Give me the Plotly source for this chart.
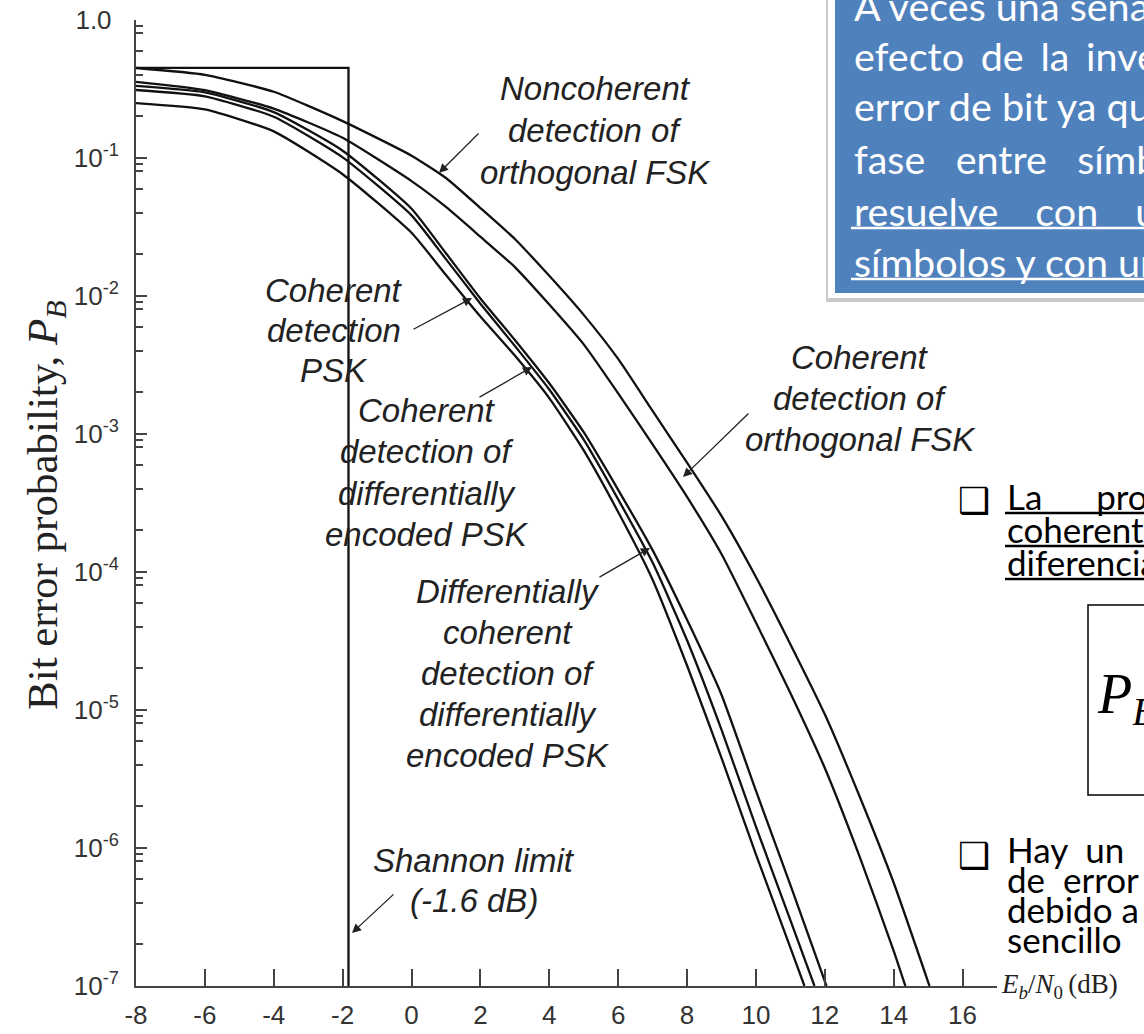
import plotly.graph_objects as go

# ---------------- data ----------------
nc_fsk_x = [-8, -6, -4, -2, 0, 1, 2, 3, 4, 5, 6, 7, 8, 9, 10, 11, 12, 13, 14, 15.04]
nc_fsk_y = [0.449, 0.401, 0.302, 0.185, 0.104, 0.0716, 0.0434, 0.0259, 0.0140, 0.0073,
            0.0035, 0.00147, 6.2e-4, 2.55e-4, 9.2e-5, 3.0e-5, 9.3e-6, 2.4e-6, 5.6e-7, 1.0e-7]

c_fsk_x = [-8, -6, -4, -2, 0, 1, 2, 3, 4, 5, 6, 7, 8, 9, 10, 11, 12, 13, 14, 14.34]
c_fsk_y = [0.356, 0.31, 0.228, 0.140, 0.068, 0.0442, 0.0269, 0.0162, 0.00867, 0.00446,
           0.00197, 8.4e-4, 3.5e-4, 1.35e-4, 4.3e-5, 1.33e-5, 3.8e-6, 8.8e-7, 1.8e-7, 1.0e-7]

dpsk_x = [-8, -6, -4, -2, 0, 1, 2, 3, 4, 5, 6, 7, 8, 9, 10, 11, 12.05]
dpsk_y = [0.333, 0.299, 0.215, 0.113, 0.0429, 0.0204, 0.0096, 0.0048, 0.00233, 1.03e-3,
          3.94e-4, 1.44e-4, 4.5e-5, 1.29e-5, 2.6e-6, 5.4e-7, 1.0e-7]

de_psk_x = [-8, -6, -4, -2, 0, 1, 2, 3, 4, 5, 6, 7, 8, 9, 10, 11, 11.70]
de_psk_y = [0.311, 0.280, 0.199, 0.101, 0.0384, 0.0185, 0.0088, 0.00435, 0.0021, 9.1e-4,
            3.36e-4, 1.17e-4, 3.2e-5, 7.2e-6, 1.43e-6, 3.0e-7, 1.0e-7]

psk_x = [-8, -6, -4, -2, 0, 1, 2, 3, 4, 5, 6, 7, 8, 9, 10, 11, 11.41]
psk_y = [0.250, 0.225, 0.156, 0.0763, 0.0287, 0.0142, 0.0071, 0.0037, 0.00182, 7.6e-4,
         2.72e-4, 8.8e-5, 2.1e-5, 4.5e-6, 9.0e-7, 1.9e-7, 1.0e-7]

shannon_x = [-8, -1.83, -1.83]
shannon_y = [0.45, 0.45, 1e-7]

x_ticks = [-8, -6, -4, -2, 0, 2, 4, 6, 8, 10, 12, 14, 16]
x_ticktext = ["-8", "-6", "-4", "-2", "0", "2", "4", "6", "8", "10", "12", "14", "16"]
y_ticks = [1e-7, 1e-6, 1e-5, 1e-4, 1e-3, 1e-2, 1e-1, 1.0]
y_ticktext = ["10<sup>-7</sup>", "10<sup>-6</sup>", "10<sup>-5</sup>", "10<sup>-4</sup>",
              "10<sup>-3</sup>", "10<sup>-2</sup>", "10<sup>-1</sup>", "1.0\u00a0"]

# ---------------- geometry helpers (layout only) ----------------
W, H = 1144, 1034
L, R, T, B = 136, 147, 20, 48
PW, PH = W - L - R, H - T - B
X0, X1 = -8, 17
Y0, Y1 = -7, 0


def px_x(px):
    return X0 + (px - L) / PW * (X1 - X0)


def px_ylog(py):
    return Y1 - (py - T) / PH * (Y1 - Y0)


def pap_x(px):
    return (px - L) / PW


def pap_y(py):
    return (H - B - py) / PH


fig = go.Figure()
line_style = dict(color="#111111", width=2.3, shape="spline", smoothing=0.5)
for xs, ys in [(nc_fsk_x, nc_fsk_y), (c_fsk_x, c_fsk_y), (dpsk_x, dpsk_y),
               (de_psk_x, de_psk_y), (psk_x, psk_y)]:
    fig.add_trace(go.Scatter(x=xs, y=ys, mode="lines", line=line_style,
                             showlegend=False, hoverinfo="skip"))
fig.add_trace(go.Scatter(x=shannon_x, y=shannon_y, mode="lines",
                         line=dict(color="#111111", width=2.3),
                         showlegend=False, hoverinfo="skip"))

minor_vals = []
for d in range(-7, 0):
    for m in [0.2, 0.4, 0.6, 0.8, 0.9]:
        minor_vals.append(m * 10 ** (d + 1))

ann = []
SANS = "Liberation Sans, Arial, sans-serif"
SERIF = "Liberation Serif, Times New Roman, serif"


def text_block(lines, cx, y0, dy, size=33):
    for i, t in enumerate(lines):
        ann.append(dict(text="<i>%s</i>" % t, x=px_x(cx), y=px_ylog(y0 + i * dy),
                        xref="x", yref="y", showarrow=False, xanchor="center",
                        yanchor="middle", font=dict(family=SANS, size=size, color="#222222")))


text_block(["Noncoherent", "detection of", "orthogonal FSK"], 595, 88, 42)
text_block(["Coherent", "detection", "PSK"], 334, 290, 40)
text_block(["Coherent", "detection of", "differentially", "encoded PSK"], 427, 410, 41.5)
text_block(["Differentially", "coherent", "detection of", "differentially", "encoded PSK"],
           508, 591, 41)
text_block(["Coherent", "detection of", "orthogonal FSK"], 860, 357, 41)
text_block(["Shannon limit", "(-1.6 dB)"], 474, 860, 40)


def arrow(tip, tail):
    ann.append(dict(text="", x=px_x(tip[0]), y=px_ylog(tip[1]), xref="x", yref="y",
                    ax=tail[0] - tip[0], ay=tail[1] - tip[1], showarrow=True,
                    arrowhead=2, arrowsize=1.4, arrowwidth=1.3, arrowcolor="#222222"))


arrow((439, 173), (480, 132))
arrow((472, 298), (412, 330))
arrow((532, 367), (478, 398))
arrow((650, 548), (598, 578))
arrow((683, 477), (750, 412))
arrow((352, 933), (395, 893))

# axis titles
ann.append(dict(text="Bit error probability, <i>P</i><sub><i>B</i></sub>",
                x=pap_x(46), y=pap_y(505), xref="paper", yref="paper", textangle=-90,
                showarrow=False, xanchor="center", yanchor="middle",
                font=dict(family=SERIF, size=43, color="#222222")))
ann.append(dict(text="<i>E</i><sub><i>b</i></sub>/<i>N</i><sub>0</sub>\u2009(dB)",
                x=pap_x(999), y=pap_y(986), xref="paper", yref="paper",
                showarrow=False, xanchor="left", yanchor="middle",
                font=dict(family=SERIF, size=27, color="#222222")))

# ---------------- slide overlay: blue text box ----------------
shapes = []
shapes.append(dict(type="rect", xref="paper", yref="paper", x0=pap_x(826), x1=pap_x(1160),
                   y0=pap_y(302), y1=pap_y(-10), fillcolor="#c9c9c9", line=dict(width=0),
                   layer="above"))
shapes.append(dict(type="rect", xref="paper", yref="paper", x0=pap_x(828), x1=pap_x(1160),
                   y0=pap_y(298), y1=pap_y(-10), fillcolor="#ffffff", line=dict(width=0),
                   layer="above"))
shapes.append(dict(type="rect", xref="paper", yref="paper", x0=pap_x(835), x1=pap_x(1160),
                   y0=pap_y(293), y1=pap_y(-10), fillcolor="#4f81bd", line=dict(width=0),
                   layer="above"))

BOX = "Lato, Carlito, Calibri, sans-serif"
NB = "\u00a0"
SIX = "\u2006"
box_lines = [
    ("A veces una señal PSK", 852, 5),
    ("efecto " + SIX + "de " + SIX + "la " + SIX + "inversión", 852, 56),
    ("error de bit ya que se", 852, 106),
    ("fase" + NB * 2 + " entre" + NB * 2 + " símbolos", 852, 158),
    ("resuelve" + NB * 2 + " " + SIX + "con" + NB * 2 + " " + SIX + "una", 852, 210),
    ("símbolos y con un", 852, 261),
]
for t, lx, cy in box_lines:
    ann.append(dict(text=t, x=pap_x(lx), y=pap_y(cy), xref="paper", yref="paper",
                    showarrow=False, xanchor="left", yanchor="middle",
                    font=dict(family=BOX, size=39.5, color="#ffffff")))
for uy in (228, 279):
    shapes.append(dict(type="line", xref="paper", yref="paper", x0=pap_x(851), x1=pap_x(1160),
                       y0=pap_y(uy), y1=pap_y(uy), line=dict(color="#ffffff", width=2.5),
                       layer="above"))

# ---------------- slide overlay: right-hand bullets ----------------
for by in (500, 855):
    ann.append(dict(text="\u2751", x=pap_x(974), y=pap_y(by), xref="paper", yref="paper",
                    showarrow=False, xanchor="center", yanchor="middle",
                    font=dict(family="DejaVu Sans", size=36, color="#000000")))
right_lines = [
    ("La" + NB * 5 + " probabilidad", 1005, 496, True),
    ("coherente de", 1005, 529, True),
    ("diferencial", 1005, 562, True),
    ("Hay" + NB + " un", 1005, 849, False),
    ("de" + NB + " error", 1005, 879, False),
    ("debido a", 1005, 909, False),
    ("sencillo", 1005, 939, False),
]
for t, lx, cy, und in right_lines:
    ann.append(dict(text=t, x=pap_x(lx), y=pap_y(cy), xref="paper", yref="paper",
                    showarrow=False, xanchor="left", yanchor="middle",
                    font=dict(family=BOX, size=35, color="#000000")))
    if und:
        shapes.append(dict(type="line", xref="paper", yref="paper", x0=pap_x(1005),
                           x1=pap_x(1160), y0=pap_y(cy + 17), y1=pap_y(cy + 17),
                           line=dict(color="#000000", width=2.5), layer="above"))

shapes.append(dict(type="rect", xref="paper", yref="paper", x0=pap_x(1088), x1=pap_x(1170),
                   y0=pap_y(795), y1=pap_y(605), fillcolor="rgba(0,0,0,0)",
                   line=dict(color="#000000", width=1.5), layer="above"))
ann.append(dict(text="<i>P</i><sub><i>B</i></sub>", x=pap_x(1095), y=pap_y(698),
                xref="paper", yref="paper", showarrow=False, xanchor="left",
                yanchor="middle", font=dict(family=SERIF, size=56, color="#000000")))

fig.update_layout(
    width=W, height=H,
    margin=dict(l=L, r=R, t=T, b=B, pad=0, autoexpand=False),
    paper_bgcolor="#ffffff", plot_bgcolor="#ffffff",
    showlegend=False,
    annotations=ann,
    shapes=shapes,
    xaxis=dict(range=[X0, X1], tickmode="array", tickvals=x_ticks, ticktext=x_ticktext,
               ticks="inside", ticklen=17, tickwidth=1.5, tickcolor="#444444",
               showline=True, linecolor="#444444", linewidth=2, showgrid=False,
               zeroline=False, ticklabelstandoff=5, automargin=False,
               tickfont=dict(family=SANS, size=26, color="#333333")),
    yaxis=dict(type="log", range=[Y0, Y1], tickmode="array", tickvals=y_ticks,
               ticktext=y_ticktext, ticks="inside", ticklen=11, tickwidth=1.5,
               tickcolor="#444444", showline=True, linecolor="#444444", linewidth=2,
               showgrid=False, zeroline=False, ticklabelstandoff=10, automargin=False,
               tickfont=dict(family=SANS, size=26, color="#333333"),
               minor=dict(tickmode="array", tickvals=minor_vals, ticks="inside", ticklen=7,
                          tickwidth=1.5, tickcolor="#444444", showgrid=False)),
)

fig.write_html("out.html", config={"displayModeBar": False},
               post_script="document.body.style.margin='0';")
